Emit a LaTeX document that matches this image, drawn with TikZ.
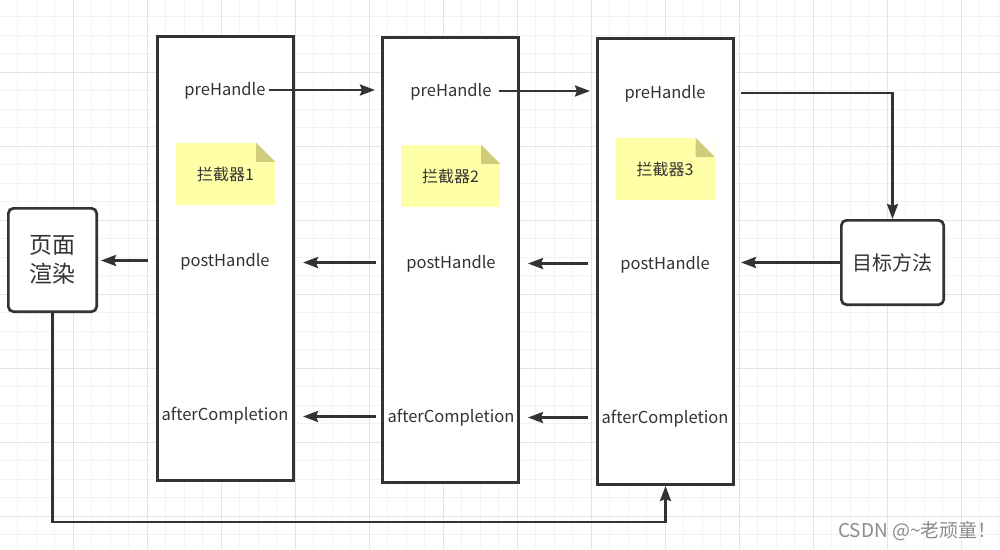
\documentclass[tikz,border=0pt]{standalone}
\usepackage{fontspec}
\setmainfont{Noto Sans CJK SC}
\usetikzlibrary{arrows.meta,positioning}
\definecolor{linegray}{HTML}{333333}
\definecolor{gridminor}{HTML}{F3F3F3}
\definecolor{gridmajor}{HTML}{E4E4E4}
\definecolor{notefill}{HTML}{FFFFA8}
\definecolor{notefold}{HTML}{CFCC7C}
\definecolor{markgray}{HTML}{8C8C8C}

\tikzset{
  column/.style={draw=linegray, line width=2.7pt, fill=white, minimum width=136.3pt, inner sep=0pt},
  endbox/.style={draw=linegray, line width=2.7pt, fill=white, rounded corners=5pt, align=center, text=linegray, inner sep=0pt},
  hook/.style={text=linegray, font=\fontsize{16.5}{19}\selectfont, inner sep=2pt},
  note/.style={fill=notefill, minimum width=99pt, minimum height=62pt, inner sep=0pt, text=linegray, font=\fontsize{16}{19}\selectfont},
  arr/.style={draw=linegray, line width=2.7pt, -{Stealth[length=15pt,width=11pt,inset=2pt]}},
  back/.style={arr, transform canvas={yshift=1.5pt}}
}

\begin{document}
\begin{tikzpicture}[x=1pt,y=-1pt]
\useasboundingbox (0,0) rectangle (1000,549);
\fill[white] (0,0) rectangle (1000,549);

% grid
\foreach \i in {0,...,54}{
\draw[gridminor, line width=1pt] (-1+18.5*\i,0)--(-1+18.5*\i,549);
}
\foreach \i in {0,...,30}{
\draw[gridminor, line width=1pt] (0,-2+18.5*\i)--(1000,-2+18.5*\i);
}
\foreach \i in {0,...,13}{
\draw[gridmajor, line width=1pt] (-1+74*\i,0)--(-1+74*\i,549);
}
\foreach \i in {0,...,7}{
\draw[gridmajor, line width=1pt] (0,-2+74*\i)--(1000,-2+74*\i);
}

% interceptor columns
\node[column, minimum height=444.3pt] (box1) at (225.5,258.5) {};
\node[column, minimum height=445.3pt] (box2) at (450.5,260) {};
\node[column, minimum height=446.3pt] (box3) at (665.5,261.5) {};

% end boxes
\node[endbox, minimum width=88.3pt, minimum height=103.3pt, font=\fontsize{23}{29}\selectfont] (render) at (52.5,260) {页面\\渲染};
\node[endbox, minimum width=102.3pt, minimum height=84.3pt, font=\fontsize{20}{22}\selectfont] (target) at (892.5,262.5) {目标方法};

% notes
\node[note] (note1) at (225.5,174) {\raisebox{-1pt}{拦截器1}};
\node[note] (note2) at (450.5,176) {\raisebox{-1pt}{拦截器2}};
\node[note] (note3) at (665,169) {\raisebox{-1pt}{拦截器3}};
\foreach \n in {note1,note2,note3}{
\fill[white] ([xshift=-19pt]\n.north east) -- (\n.north east) -- ([yshift=-19pt]\n.north east) -- cycle;
\fill[notefold] ([xshift=-19pt]\n.north east) -- ([yshift=-19pt]\n.north east) -- ([shift={(-19pt,-19pt)}]\n.north east) -- cycle;
}

% hook labels
\node[hook] (pre1) at (225,91) {preHandle};
\node[hook] (pre2) at (451,92) {preHandle};
\node[hook] (pre3) at (665,94) {preHandle};
\node[hook] (post1) at (225,262) {postHandle};
\node[hook] (post2) at (451,264) {postHandle};
\node[hook] (post3) at (665,265) {postHandle};
\node[hook] (after1) at (225,416) {afterCompletion};
\node[hook] (after2) at (451,418) {afterCompletion};
\node[hook] (after3) at (665,419) {afterCompletion};

% forward
\draw[arr, shorten <=1pt, shorten >=6pt] ([yshift=1pt]pre1.east) -- ([yshift=1pt]pre1.east -| box2.west);
\draw[arr, shorten <=5pt, shorten >=6pt] ([yshift=1pt]pre2.east) -- ([yshift=1pt]pre2.east -| box3.west);
\draw[arr, shorten <=6pt] ([yshift=1pt]pre3.east -| box3.east) -| (target.north);

% backward
\draw[arr, shorten >=6pt] (target.west) -- (target.west -| box3.east);
\draw[back, shorten <=8pt, shorten >=8pt] (post3 -| box3.west) -- (post3 -| box2.east);
\draw[back, shorten <=5pt, shorten >=8pt] (post2 -| box2.west) -- (post2 -| box1.east);
\draw[back, shorten <=8pt, shorten >=3pt] (post1 -| box1.west) -- (post1 -| render.east);
\draw[back, shorten <=8pt, shorten >=8pt] (after3 -| box3.west) -- (after3 -| box2.east);
\draw[back, shorten <=5pt, shorten >=8pt] (after2 -| box2.west) -- (after2 -| box1.east);

% render back to the last one
\coordinate (turn) at (665.5,522);
\draw[arr] (render.south) |- (turn) -- (box3.south);

\node[text=markgray, font=\fontsize{19}{21}\selectfont, anchor=east, inner sep=0pt] (mark) at (997,531) {CSDN @\textasciitilde 老顽童！};
\end{tikzpicture}
\end{document}
